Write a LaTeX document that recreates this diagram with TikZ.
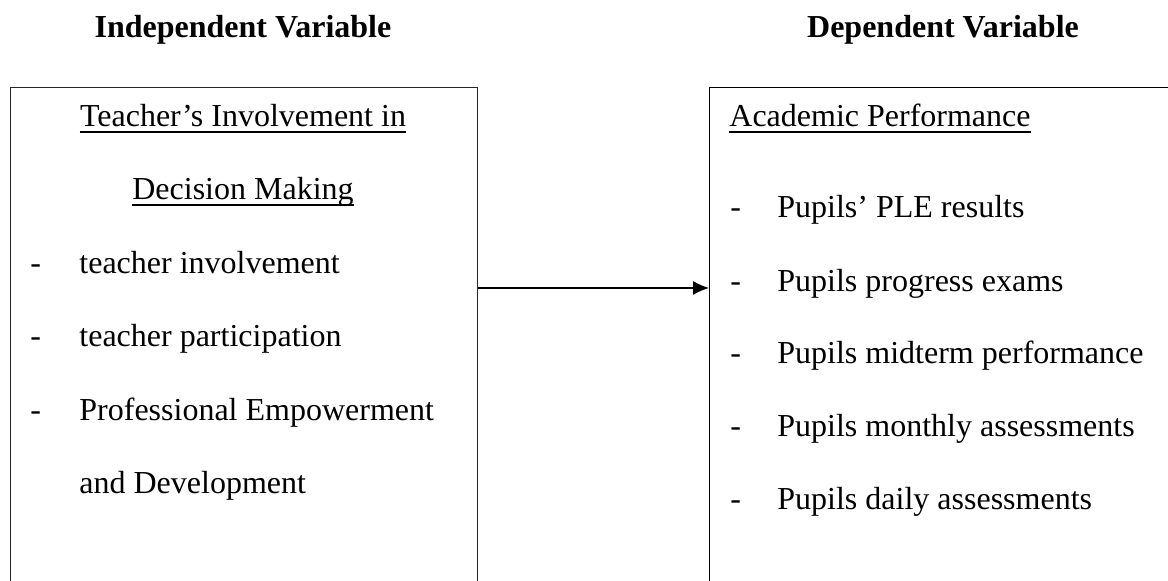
\documentclass[tikz,border=0pt]{standalone}
\usepackage{fontspec}
\setmainfont{Liberation Serif}
\usetikzlibrary{arrows.meta}
\begin{document}
\begin{tikzpicture}[x=0.5pt, y=-0.5pt,
    varbox/.style={draw=black!85, line width=0.65pt, anchor=north west,
      minimum width=233.5pt, minimum height=270pt, inner sep=0pt},
    txt/.style={inner sep=0pt, font=\fontsize{16}{19}\selectfont},
    ul/.style={line width=0.65pt},
    link/.style={line width=0.65pt, -{Latex[length=8pt, width=7pt]}}]
    \fill[white] (0,0) rectangle (1168,581);
    \useasboundingbox (0,0) rectangle (1168,581);
    \clip (0,0) rectangle (1168,581);
    % headings
    \node[txt, anchor=base, font=\fontsize{16}{19}\selectfont\bfseries] (ivar) at (243,38) {Independent Variable};
    \node[txt, anchor=base, font=\fontsize{16}{19}\selectfont\bfseries] (dvar) at (943,38) {Dependent Variable};
    % boxes
    \node[varbox] (indep) at (10,87) {};
    \node[varbox, draw=black] (dep) at (709,87) {};
    % left box
    \node[txt, anchor=base] (ttl1) at (243,127) {Teacher's Involvement in};
    \node[txt, anchor=base] (ttl2) at (243,200) {Decision Making};
    \draw[ul] ([yshift=-2.5pt]ttl1.base west) -- ([yshift=-2.5pt]ttl1.base east);
    \draw[ul] ([yshift=-2.5pt]ttl2.base west) -- ([yshift=-2.5pt]ttl2.base east);
    \foreach \y/\t [count=\i] in {274/teacher involvement, 347/teacher participation,
        421/Professional Empowerment} {
      \node[txt, anchor=base west] (ld\i) at (30,\y) {-};
      \node[txt, anchor=base west] (li\i) at (79,\y) {\t};
    }
    \node[txt, anchor=base west] (li4) at (79,494) {and Development};
    % right box
    \node[txt, anchor=base west] (ttl3) at (729,127) {Academic Performance};
    \draw[ul] ([yshift=-2.5pt]ttl3.base west) -- ([yshift=-2.5pt]ttl3.base east);
    \foreach \y/\t [count=\i] in {218/Pupils' PLE results, 292/Pupils progress exams,
        364/Pupils midterm performance, 437/Pupils monthly assessments,
        510/Pupils daily assessments} {
      \node[txt, anchor=base west] (rd\i) at (730,\y) {-};
      \node[txt, anchor=base west] (ri\i) at (777,\y) {\t};
    }
    % link
    \coordinate (lnk) at (0,288);
    \draw[link] (indep.east |- lnk) -- (dep.west |- lnk);
\end{tikzpicture}
\end{document}
